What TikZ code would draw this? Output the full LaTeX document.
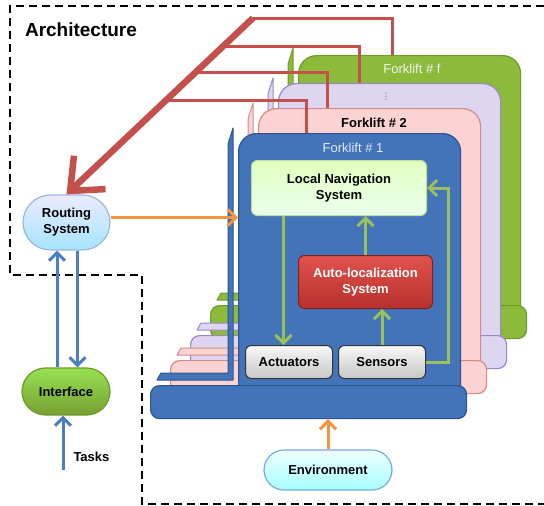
\documentclass[tikz,border=0pt]{standalone}
\usepackage{fontspec}
\setmainfont{Liberation Sans}
\newfontfamily\symfont{DejaVu Sans}
\usetikzlibrary{arrows.meta, shapes.misc, calc, positioning}

\definecolor{fkblue}{HTML}{4373B9}
\definecolor{fkblueline}{HTML}{2B5590}
\definecolor{fkpink}{HTML}{FCD3D3}
\definecolor{fkpinkline}{HTML}{D58A8A}
\definecolor{fkpurple}{HTML}{DED6F1}
\definecolor{fkpurpleline}{HTML}{9C86C8}
\definecolor{fkgreen}{HTML}{8CBB3C}
\definecolor{fkgreenline}{HTML}{6E9A2A}
\definecolor{redl}{HTML}{C4504C}
\definecolor{orangel}{HTML}{F7943F}
\definecolor{greenl}{HTML}{9DC15A}
\definecolor{bluel}{HTML}{4A7EBF}
\definecolor{alztop}{HTML}{E2524D}
\definecolor{alzbot}{HTML}{B8302C}

\newcommand{\lbl}{\fontsize{13}{16}\selectfont\bfseries}
\tikzset{> = { Straight Barb[length = 8pt, width = 16pt] }}

\begin{document}
\begin{tikzpicture}[x = 1pt, y = -1pt,
		body/.style = { draw, rounded corners = 18pt, minimum width = 222pt, minimum height = 270pt, inner sep = 0pt, anchor = north west, line width = 1.2pt },
		base/.style = { draw, rounded corners = 9pt, minimum width = 316pt, minimum height = 33pt, inner sep = 0pt, anchor = north west, line width = 1.2pt },
		fork/.style = { draw, line width = 1pt, line join = round },
		sysbox/.style = { draw, rounded corners = 6pt, inner sep = 0pt, anchor = north west, align = center, font = \lbl, line width = 1pt },
		pill/.style = { draw, rounded rectangle, inner sep = 0pt, align = center, font = \lbl, line width = 1.2pt },
		fktitle/.style = { inner sep = 0pt, font = \fontsize{13}{15}\selectfont },
		redthin/.style = { draw = redl, line width = 3pt },
		redthick/.style = { draw = redl, line width = 6.5pt, -{Straight Barb[length = 27pt, width = 46pt]} },
		garrow/.style = { draw = greenl, line width = 3pt, -> },
		oarrow/.style = { draw = orangel, line width = 3pt, -> },
		barrow/.style = { draw = bluel, line width = 3pt, -> }]

		\useasboundingbox (0,0) rectangle (544,506);

		% outline of the architecture
		\draw [dashed, line width = 1.6pt, dash pattern = on 8pt off 5pt] (544,6) -- (10,6) -- (10,275) -- (142,275) -- (142,504) -- (544,504);
		\node [font = \fontsize{19}{22}\selectfont\bfseries] (arch) at (81,30) {Architecture};

		% forklift f (back)
		\node [body, fill = fkgreen, draw = fkgreenline] (fkf) at (298,55) {};
		\draw [fork, fill = fkgreen, draw = fkgreenline] (288,64) -- (293,48) -- (293,300) -- (217,300) -- (221,293) -- (288,293) -- cycle;
		\node [base, fill = fkgreen, draw = fkgreenline] (bsf) at (210,305) {};

		% forklift 3
		\node [body, fill = fkpurple, draw = fkpurpleline] (fk3) at (278,83) {};
		\draw [fork, fill = fkpurple, draw = fkpurpleline] (268,94) -- (273,78) -- (273,330) -- (197,330) -- (201,323) -- (268,323) -- cycle;
		\node [base, fill = fkpurple, draw = fkpurpleline] (bs3) at (190,335) {};

		% forklift 2
		\node [body, fill = fkpink, draw = fkpinkline] (fk2) at (258,108) {};
		\draw [fork, fill = fkpink, draw = fkpinkline] (248,119) -- (253,103) -- (253,355) -- (177,355) -- (181,348) -- (248,348) -- cycle;
		\node [base, fill = fkpink, draw = fkpinkline] (bs2) at (170,360) {};

		% forklift 1 (front)
		\node [body, fill = fkblue, draw = fkblueline] (fk1) at (238,133) {};
		\draw [fork, fill = fkblue, draw = fkblueline] (228,144) -- (233,128) -- (233,380) -- (157,380) -- (161,373) -- (228,373) -- cycle;
		\node [base, fill = fkblue, draw = fkblueline] (bs1) at (150,385) {};

		\node [fktitle, text = white!90!gray] at (412,69) {Forklift \# f};
		\node [text = gray!80!black, inner sep = 0pt, font = \symfont\fontsize{9}{9}\selectfont] at (386,97) {⋮};
		\node [fktitle, font = \fontsize{13}{15}\selectfont\bfseries] at (374,123) {Forklift \# 2};
		\node [fktitle, text = white!85!fkblue] at (353,148) {Forklift \# 1};

		% blocks of forklift 1
		\node [sysbox, top color = green!30!lime!25!white, bottom color = white!92!green, draw = greenl!60!white, minimum width = 175pt, minimum height = 55pt] (lns) at (251,160) {Local Navigation\\System};
		\node [sysbox, top color = alztop, bottom color = alzbot, draw = alzbot!70!black, text = white, minimum width = 134pt, minimum height = 53pt] (alz) at (298,255) {Auto-localization\\System};
		\node [sysbox, top color = white!97!black, bottom color = white!78!black, draw = black!80, minimum width = 87pt, minimum height = 33pt] (act) at (245,345) {Actuators};
		\node [sysbox, top color = white!97!black, bottom color = white!78!black, draw = black!80, minimum width = 87pt, minimum height = 33pt] (sen) at (338,345) {Sensors};

		% outside blocks
		\node [pill, top color = blue!8!white, bottom color = blue!30!cyan!35!white, draw = bluel!55!white, minimum width = 87pt, minimum height = 55pt] (rt) at (66.5,222.5) {Routing\\System};
		\node [pill, top color = green!35!lime!70!gray!80!white, bottom color = fkgreen!85!black, draw = fkgreenline, minimum width = 88pt, minimum height = 47pt] (ui) at (66,391.5) {Interface};
		\node [pill, top color = cyan!6!white, bottom color = cyan!35!white, draw = cyan!60!blue!55!white, minimum width = 128pt, minimum height = 40pt] (env) at (328,470) {Environment};

		% links from the forklifts to routing
		\coordinate (rj) at (253,18);
		\coordinate (tf) at ([xshift = -17pt]fkf.north);
		\coordinate (t3) at ([xshift = -30pt]fk3.north);
		\coordinate (t2) at ([xshift = -42pt]fk2.north);
		\coordinate (t1) at ([xshift = -43pt]fk1.north);
		\draw [redthin] (rj) -| (tf);
		\draw [redthin] ($(rj)!.16!(rt.north)$) -| (t3);
		\draw [redthin] ($(rj)!.31!(rt.north)$) -| (t2);
		\draw [redthin] ($(rj)!.465!(rt.north)$) -| (t1);
		\draw [redthick] (rj) -- (rt.north);

		\draw [oarrow] ([yshift = 5pt]rt.east) -- ([yshift = 5pt]rt.east -| fk1.west);
		\draw [oarrow] (env.north) -- (env.north |- bs1.south);

		\draw [barrow] ([xshift = -9pt]ui.north) -- ([xshift = -9pt]ui.north |- rt.south);
		\draw [barrow] ([xshift = 11pt]rt.south) -- ([xshift = 11pt]rt.south |- ui.north);
		\coordinate (task) at (63,470);
		\draw [barrow] (task) -- node[pos = 0.24, right = 8pt, inner sep = 1pt, font = \lbl]{Tasks} (task |- ui.south);

		\coordinate (a1) at ([xshift = -5.5pt]act.north);
		\draw [garrow] (lns.south -| a1) -- (a1);
		\draw [garrow] (alz.north) -- (alz.north |- lns.south);
		\draw [garrow] (sen.north) -- (sen.north |- alz.south);
		\draw [garrow] (sen.east) -- ++(22,0) |- (lns.east);
	\end{tikzpicture}
\end{document}
